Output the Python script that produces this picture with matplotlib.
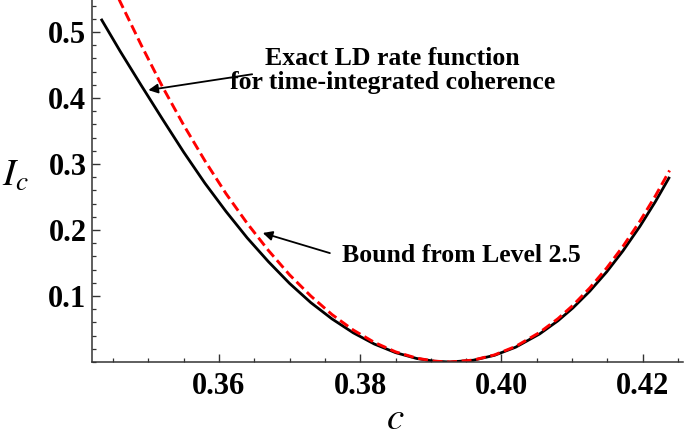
import numpy as np
import matplotlib
matplotlib.use("Agg")
import matplotlib.pyplot as plt
from matplotlib.ticker import MultipleLocator, FixedLocator

plt.rcParams['mathtext.fontset'] = 'stix'
plt.rcParams['font.family'] = ['Liberation Serif', 'DejaVu Serif']

# exact LD rate function (black, solid)
c_exact = [0.3433, 0.3460, 0.3490, 0.3520, 0.3550, 0.3580, 0.3610, 0.3640,
           0.3670, 0.3700, 0.3730, 0.3760, 0.3790, 0.3820, 0.3850, 0.3880,
           0.3905, 0.3927, 0.3960, 0.3990, 0.4020, 0.4054, 0.4080, 0.4101,
           0.4125, 0.4149, 0.4172, 0.4196, 0.4218, 0.4238]
I_exact = [0.520, 0.471, 0.419, 0.368, 0.318, 0.271, 0.228, 0.188,
           0.152, 0.119, 0.090, 0.0653, 0.0443, 0.0272, 0.0142, 0.0053,
           0.0012, 0.0, 0.0027, 0.0101, 0.0224, 0.0425, 0.0625, 0.0818,
           0.1073, 0.1366, 0.1684, 0.2055, 0.2432, 0.2805]

# level 2.5 bound (red, dashed)
c_bound = c_exact
I_bound = [0.609, 0.546, 0.480, 0.417, 0.359, 0.305, 0.255, 0.210,
           0.169, 0.132, 0.100, 0.0719, 0.0485, 0.0297, 0.0154, 0.0058,
           0.0013, 0.0, 0.0029, 0.0107, 0.0236, 0.0448, 0.0657, 0.0857,
           0.1122, 0.1425, 0.1752, 0.2133, 0.2519, 0.2902]

xticks = [0.36, 0.38, 0.40, 0.42]
xticklabels = ['0.36', '0.38', '0.40', '0.42']
yticks = [0.1, 0.2, 0.3, 0.4, 0.5]
yticklabels = ['0.1', '0.2', '0.3', '0.4', '0.5']

fig = plt.figure(figsize=(6.85, 4.36), dpi=100)
ax = fig.add_axes([92/685, 74/436, 591/685, 362/436])

ax.plot(c_exact, I_exact, color='black', lw=2.0, solid_capstyle='butt')
ax.plot(c_bound, I_bound, color='#ff0000', lw=2.1, dashes=(3.4, 1.6))

ax.set_xlim(0.34202, 0.4257)
ax.set_ylim(0, 0.5485)

for s in ['top', 'right']:
    ax.spines[s].set_visible(False)
for s in ['left', 'bottom']:
    ax.spines[s].set_color('0.2')
    ax.spines[s].set_linewidth(1.1)

ax.xaxis.set_major_locator(FixedLocator(xticks))
ax.set_xticklabels(xticklabels)
ax.xaxis.set_minor_locator(MultipleLocator(0.005))
ax.yaxis.set_major_locator(FixedLocator(yticks))
ax.set_yticklabels(yticklabels)
ax.yaxis.set_minor_locator(MultipleLocator(0.02))

ax.tick_params(which='major', direction='in', length=6, width=1.0, color='0.2')
ax.tick_params(which='minor', direction='in', length=3, width=0.9, color='0.2')
ax.tick_params(axis='x', which='major', pad=7)
ax.tick_params(axis='y', which='major', pad=4)
for lab in ax.get_xticklabels() + ax.get_yticklabels():
    lab.set_fontweight('bold')
    lab.set_fontsize(22)

# annotations
ax.annotate('', xy=(0.3500, 0.412), xytext=(0.3647, 0.436),
            arrowprops=dict(arrowstyle='-|>', color='black', lw=1.3,
                            mutation_scale=14, shrinkA=0, shrinkB=0))
ax.text(0.3846, 0.442, 'Exact LD rate function\nfor time-integrated coherence',
        ha='center', va='center', fontsize=18.5, fontweight='bold', linespacing=1.05)

ax.annotate('', xy=(0.3662, 0.1955), xytext=(0.3757, 0.165),
            arrowprops=dict(arrowstyle='-|>', color='black', lw=1.3,
                            mutation_scale=14, shrinkA=0, shrinkB=0))
ax.text(0.3943, 0.161, 'Bound from Level 2.5',
        ha='center', va='center', fontsize=18.5, fontweight='bold')

fig.text(15/685, 1 - 176/436, r'$I_c$', fontsize=28, ha='center', va='center')
fig.text(395/685, 1 - 419/436, r'$c$', fontsize=28, ha='center', va='center')

fig.savefig('out.png', dpi=100)
